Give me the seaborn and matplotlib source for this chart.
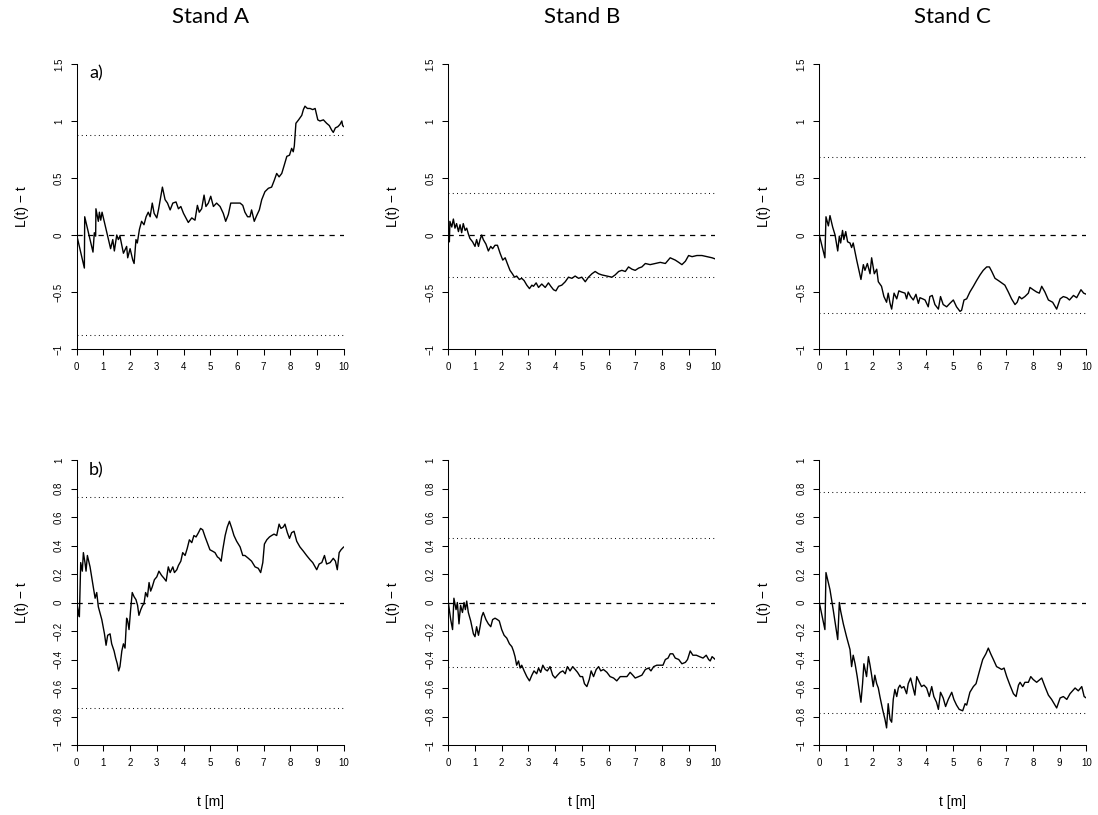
import numpy as np
import pandas as pd
import matplotlib
matplotlib.use("Agg")
import matplotlib.pyplot as plt
from matplotlib.ticker import FixedLocator, FuncFormatter
import seaborn as sns

# ---------------- data ----------------
stands = ["Stand A", "Stand B", "Stand C"]
row_labels = ["a)", "b)"]

x_ticks = [0, 1, 2, 3, 4, 5, 6, 7, 8, 9, 10]
y_ticks_top = [-1, -0.5, 0, 0.5, 1, 1.5]
y_ticks_bottom = [-1, -0.8, -0.6, -0.4, -0.2, 0, 0.2, 0.4, 0.6, 0.8, 1]

# envelope half-widths (dotted lines) per panel
env_top = [0.88, 0.37, 0.685]
env_bottom = [0.74, 0.45, 0.777]

# ---- row a) ----
tA_a = [0, 0.287, 0.30, 0.61, 0.66, 0.71, 0.72, 0.81, 0.85, 0.90,
        0.95, 1.27, 1.35, 1.41, 1.50, 1.56, 1.62, 1.75, 1.87, 1.91,
        2.0, 2.10, 2.15, 2.22, 2.27, 2.35, 2.43, 2.52, 2.60, 2.68,
        2.75, 2.83, 2.90, 3.0, 3.07, 3.21, 3.31, 3.40, 3.50, 3.60,
        3.72, 3.81, 3.90, 4.0, 4.18, 4.31, 4.43, 4.52, 4.59, 4.68,
        4.77, 4.84, 4.93, 5.02, 5.12, 5.24, 5.37, 5.49, 5.58, 5.68,
        5.77, 5.87, 5.99, 6.12, 6.22, 6.30, 6.40, 6.49, 6.55, 6.65,
        6.74, 6.84, 6.93, 7.05, 7.18, 7.30, 7.40, 7.49, 7.58, 7.68,
        7.77, 7.87, 7.97, 8.05, 8.11, 8.15, 8.21, 8.31, 8.43, 8.49,
        8.55, 8.64, 8.74, 8.84, 8.93, 9.03, 9.11, 9.24, 9.36, 9.46,
        9.55, 9.61, 9.69, 9.78, 9.86, 9.93, 9.96, 10.0]
LA_a = [0, -0.29, 0.16, -0.15, 0.02, -0.01, 0.23, 0.12, 0.20, 0.13,
        0.20, -0.12, -0.04, -0.14, 0.0, -0.04, -0.01, -0.16, -0.10, -0.20,
        -0.12, -0.22, -0.25, -0.04, -0.07, 0.05, 0.12, 0.09, 0.16, 0.20,
        0.16, 0.28, 0.19, 0.15, 0.23, 0.42, 0.31, 0.28, 0.22, 0.28,
        0.29, 0.23, 0.25, 0.19, 0.11, 0.15, 0.13, 0.26, 0.20, 0.23,
        0.35, 0.25, 0.28, 0.34, 0.25, 0.28, 0.25, 0.19, 0.12, 0.18,
        0.28, 0.28, 0.28, 0.28, 0.26, 0.20, 0.16, 0.16, 0.22, 0.12,
        0.17, 0.22, 0.31, 0.38, 0.41, 0.42, 0.48, 0.54, 0.51, 0.54,
        0.61, 0.69, 0.70, 0.76, 0.73, 0.78, 0.98, 1.01, 1.05, 1.10,
        1.13, 1.11, 1.11, 1.10, 1.11, 1.01, 1.00, 1.01, 0.98, 0.96,
        0.92, 0.90, 0.94, 0.95, 0.97, 1.00, 0.96, 0.95]

tB_a = [0, 0.04, 0.06, 0.13, 0.19, 0.25, 0.31, 0.38, 0.44, 0.50,
        0.56, 0.63, 0.69, 0.75, 0.81, 0.91, 1.0, 1.06, 1.13, 1.19,
        1.25, 1.31, 1.41, 1.5, 1.59, 1.66, 1.75, 1.84, 1.94, 2.04,
        2.13, 2.21, 2.31, 2.40, 2.48, 2.56, 2.66, 2.75, 2.84, 2.94,
        3.04, 3.13, 3.19, 3.29, 3.38, 3.5, 3.63, 3.75, 3.84, 3.94,
        4.03, 4.13, 4.25, 4.38, 4.5, 4.63, 4.75, 4.88, 5.0, 5.13,
        5.25, 5.38, 5.5, 5.63, 5.75, 5.94, 6.13, 6.25, 6.38, 6.5,
        6.63, 6.75, 6.88, 7.0, 7.13, 7.25, 7.38, 7.56, 7.75, 7.94,
        8.13, 8.31, 8.5, 8.63, 8.75, 8.88, 9.0, 9.13, 9.31, 9.5,
        9.69, 9.88, 10.0]
LB_a = [0, -0.06, 0.12, 0.07, 0.14, 0.06, 0.10, 0.03, 0.09, 0.02,
        0.10, 0.04, 0.06, 0.01, -0.03, -0.06, -0.10, -0.04, -0.10, -0.04,
        0.0, -0.04, -0.08, -0.14, -0.10, -0.12, -0.09, -0.09, -0.16, -0.22,
        -0.20, -0.25, -0.31, -0.34, -0.37, -0.36, -0.39, -0.38, -0.40, -0.44,
        -0.47, -0.44, -0.45, -0.42, -0.46, -0.43, -0.46, -0.42, -0.45, -0.48,
        -0.49, -0.45, -0.44, -0.41, -0.37, -0.38, -0.36, -0.38, -0.37, -0.41,
        -0.37, -0.34, -0.32, -0.34, -0.35, -0.36, -0.37, -0.35, -0.32, -0.31,
        -0.32, -0.28, -0.30, -0.31, -0.29, -0.28, -0.25, -0.26, -0.25, -0.24,
        -0.25, -0.20, -0.22, -0.24, -0.26, -0.23, -0.18, -0.19, -0.18, -0.18,
        -0.19, -0.20, -0.21]

tC_a = [0, 0.21, 0.25, 0.34, 0.40, 0.50, 0.59, 0.69, 0.75, 0.80,
        0.87, 0.92, 0.99, 1.06, 1.15, 1.21, 1.27, 1.40, 1.56, 1.65,
        1.71, 1.80, 1.90, 1.96, 2.06, 2.15, 2.21, 2.33, 2.42, 2.52,
        2.58, 2.65, 2.71, 2.80, 2.90, 2.98, 3.08, 3.21, 3.27, 3.33,
        3.42, 3.52, 3.62, 3.71, 3.77, 3.87, 3.96, 4.08, 4.14, 4.23,
        4.33, 4.46, 4.54, 4.64, 4.77, 4.89, 5.02, 5.14, 5.27, 5.33,
        5.42, 5.52, 5.64, 5.77, 5.89, 6.02, 6.14, 6.27, 6.37, 6.46,
        6.58, 6.71, 6.83, 6.95, 7.08, 7.20, 7.33, 7.41, 7.49, 7.58,
        7.70, 7.83, 7.89, 8.01, 8.14, 8.24, 8.33, 8.45, 8.58, 8.74,
        8.89, 9.02, 9.14, 9.27, 9.37, 9.52, 9.64, 9.80, 9.90, 10.0]
LC_a = [0, -0.20, 0.16, 0.08, 0.17, 0.07, 0.0, -0.14, -0.01, -0.07,
        0.04, -0.04, 0.03, -0.06, -0.07, -0.11, -0.07, -0.22, -0.39, -0.26,
        -0.31, -0.25, -0.34, -0.20, -0.34, -0.30, -0.41, -0.45, -0.54, -0.59,
        -0.51, -0.60, -0.65, -0.51, -0.56, -0.49, -0.50, -0.51, -0.56, -0.50,
        -0.54, -0.57, -0.52, -0.60, -0.55, -0.56, -0.57, -0.63, -0.54, -0.53,
        -0.61, -0.65, -0.54, -0.61, -0.63, -0.60, -0.57, -0.63, -0.67, -0.66,
        -0.57, -0.56, -0.50, -0.45, -0.40, -0.35, -0.31, -0.28, -0.28, -0.32,
        -0.38, -0.40, -0.42, -0.44, -0.50, -0.56, -0.61, -0.59, -0.54, -0.56,
        -0.54, -0.51, -0.46, -0.48, -0.50, -0.51, -0.45, -0.50, -0.57, -0.59,
        -0.65, -0.56, -0.54, -0.55, -0.57, -0.53, -0.55, -0.48, -0.51, -0.52]

# ---- row b) ----
tA_b = [0, 0.06, 0.10, 0.15, 0.21, 0.25, 0.31, 0.35, 0.40, 0.50,
        0.62, 0.69, 0.75, 0.81, 0.94, 1.04, 1.10, 1.16, 1.25, 1.31,
        1.40, 1.46, 1.52, 1.57, 1.62, 1.69, 1.75, 1.81, 1.87, 1.91,
        1.96, 2.02, 2.08, 2.15, 2.22, 2.28, 2.33, 2.40, 2.47, 2.52,
        2.58, 2.65, 2.71, 2.77, 2.83, 2.91, 3.0, 3.08, 3.18, 3.27,
        3.35, 3.43, 3.50, 3.60, 3.66, 3.75, 3.81, 3.90, 3.97, 4.06,
        4.14, 4.22, 4.31, 4.39, 4.47, 4.56, 4.64, 4.72, 4.81, 4.89,
        4.99, 5.09, 5.18, 5.27, 5.34, 5.41, 5.47, 5.56, 5.64, 5.72,
        5.81, 5.89, 5.99, 6.12, 6.22, 6.30, 6.43, 6.55, 6.68, 6.80,
        6.89, 6.97, 7.03, 7.12, 7.22, 7.30, 7.39, 7.49, 7.58, 7.65,
        7.74, 7.80, 7.89, 7.97, 8.05, 8.14, 8.24, 8.36, 8.49, 8.61,
        8.74, 8.84, 8.93, 8.99, 9.08, 9.18, 9.28, 9.36, 9.49, 9.61,
        9.69, 9.76, 9.83, 9.90, 10.0]
LA_b = [0, -0.06, -0.10, 0.28, 0.22, 0.35, 0.28, 0.22, 0.33, 0.25,
        0.11, 0.03, 0.07, -0.03, -0.12, -0.22, -0.30, -0.23, -0.22, -0.29,
        -0.34, -0.39, -0.43, -0.48, -0.45, -0.34, -0.29, -0.32, -0.11, -0.13,
        -0.19, -0.05, 0.07, 0.04, 0.02, -0.02, -0.09, -0.05, -0.02, -0.01,
        0.07, 0.04, 0.14, 0.08, 0.11, 0.16, 0.18, 0.22, 0.19, 0.17,
        0.15, 0.25, 0.21, 0.25, 0.21, 0.23, 0.26, 0.29, 0.35, 0.33,
        0.38, 0.44, 0.42, 0.47, 0.46, 0.49, 0.52, 0.51, 0.46, 0.42,
        0.37, 0.36, 0.35, 0.32, 0.31, 0.29, 0.37, 0.47, 0.53, 0.57,
        0.52, 0.47, 0.43, 0.39, 0.33, 0.33, 0.31, 0.29, 0.25, 0.24,
        0.21, 0.28, 0.41, 0.44, 0.46, 0.47, 0.48, 0.47, 0.55, 0.52,
        0.53, 0.55, 0.49, 0.45, 0.49, 0.50, 0.43, 0.39, 0.36, 0.33,
        0.30, 0.28, 0.25, 0.23, 0.27, 0.28, 0.33, 0.27, 0.28, 0.31,
        0.29, 0.23, 0.35, 0.37, 0.39]

tB_b = [0, 0.09, 0.16, 0.21, 0.29, 0.34, 0.40, 0.46, 0.53, 0.59,
        0.64, 0.69, 0.75, 0.84, 0.94, 1.0, 1.06, 1.13, 1.19, 1.25,
        1.31, 1.41, 1.5, 1.59, 1.66, 1.75, 1.84, 1.91, 2.0, 2.09,
        2.19, 2.29, 2.38, 2.44, 2.5, 2.56, 2.63, 2.69, 2.75, 2.84,
        2.94, 3.04, 3.13, 3.21, 3.31, 3.38, 3.46, 3.54, 3.63, 3.71,
        3.81, 3.91, 4.0, 4.09, 4.19, 4.29, 4.38, 4.46, 4.56, 4.66,
        4.75, 4.84, 4.94, 5.03, 5.10, 5.19, 5.28, 5.35, 5.44, 5.54,
        5.63, 5.71, 5.81, 5.94, 6.06, 6.19, 6.31, 6.44, 6.56, 6.69,
        6.81, 6.91, 7.0, 7.13, 7.25, 7.38, 7.5, 7.59, 7.69, 7.81,
        7.94, 8.04, 8.13, 8.23, 8.31, 8.41, 8.5, 8.63, 8.75, 8.88,
        8.96, 9.06, 9.16, 9.29, 9.41, 9.54, 9.66, 9.75, 9.81, 9.88,
        10.0]
LB_b = [0, -0.12, -0.19, 0.03, -0.05, 0.0, -0.15, -0.02, -0.07, 0.0,
        -0.05, 0.01, -0.07, -0.13, -0.22, -0.24, -0.17, -0.23, -0.17, -0.10,
        -0.07, -0.12, -0.15, -0.17, -0.12, -0.11, -0.12, -0.13, -0.19, -0.23,
        -0.25, -0.29, -0.31, -0.34, -0.38, -0.44, -0.41, -0.46, -0.44, -0.48,
        -0.52, -0.55, -0.51, -0.48, -0.50, -0.46, -0.49, -0.44, -0.47, -0.48,
        -0.45, -0.51, -0.53, -0.51, -0.49, -0.48, -0.50, -0.45, -0.48, -0.45,
        -0.47, -0.49, -0.52, -0.52, -0.57, -0.59, -0.54, -0.48, -0.52, -0.47,
        -0.45, -0.48, -0.47, -0.49, -0.52, -0.53, -0.55, -0.52, -0.52, -0.52,
        -0.49, -0.51, -0.53, -0.52, -0.51, -0.47, -0.46, -0.48, -0.45, -0.44,
        -0.44, -0.44, -0.40, -0.39, -0.36, -0.36, -0.39, -0.40, -0.43, -0.42,
        -0.40, -0.34, -0.37, -0.37, -0.38, -0.39, -0.37, -0.40, -0.41, -0.38,
        -0.40]

tC_b = [0, 0.21, 0.25, 0.40, 0.52, 0.69, 0.75, 0.80, 0.90, 1.02,
        1.15, 1.21, 1.27, 1.34, 1.42, 1.56, 1.62, 1.67, 1.77, 1.84,
        1.90, 1.96, 2.02, 2.08, 2.15, 2.21, 2.27, 2.37, 2.46, 2.52,
        2.58, 2.65, 2.71, 2.77, 2.83, 2.90, 2.96, 3.02, 3.08, 3.17,
        3.27, 3.33, 3.42, 3.50, 3.58, 3.65, 3.75, 3.83, 3.92, 4.02,
        4.12, 4.21, 4.29, 4.39, 4.46, 4.54, 4.64, 4.73, 4.83, 4.96,
        5.04, 5.14, 5.24, 5.37, 5.46, 5.52, 5.64, 5.77, 5.87, 6.0,
        6.12, 6.24, 6.33, 6.42, 6.52, 6.64, 6.74, 6.83, 6.92, 7.02,
        7.14, 7.27, 7.37, 7.46, 7.52, 7.62, 7.70, 7.83, 7.92, 8.01,
        8.14, 8.33, 8.45, 8.58, 8.70, 8.89, 9.02, 9.14, 9.27, 9.39,
        9.58, 9.70, 9.83, 9.92, 10.0]
LC_b = [0, -0.19, 0.21, 0.09, -0.05, -0.26, 0.0, -0.06, -0.15, -0.24,
        -0.33, -0.45, -0.37, -0.43, -0.52, -0.70, -0.57, -0.43, -0.52, -0.38,
        -0.44, -0.51, -0.59, -0.51, -0.57, -0.60, -0.66, -0.75, -0.82, -0.88,
        -0.71, -0.82, -0.84, -0.68, -0.61, -0.66, -0.60, -0.58, -0.60, -0.59,
        -0.64, -0.57, -0.53, -0.59, -0.65, -0.52, -0.56, -0.59, -0.58, -0.60,
        -0.66, -0.59, -0.66, -0.70, -0.75, -0.63, -0.67, -0.73, -0.68, -0.63,
        -0.68, -0.72, -0.75, -0.76, -0.71, -0.72, -0.63, -0.59, -0.57, -0.48,
        -0.40, -0.36, -0.32, -0.36, -0.40, -0.45, -0.46, -0.47, -0.46, -0.52,
        -0.58, -0.64, -0.66, -0.58, -0.56, -0.59, -0.56, -0.56, -0.52, -0.54,
        -0.56, -0.53, -0.59, -0.65, -0.68, -0.74, -0.67, -0.66, -0.68, -0.64,
        -0.60, -0.62, -0.59, -0.66, -0.67]

top_series = [(tA_a, LA_a), (tB_a, LB_a), (tC_a, LC_a)]
bottom_series = [(tA_b, LA_b), (tB_b, LB_b), (tC_b, LC_b)]

# ---------------- style ----------------
sns.set_theme(style="ticks")
plt.rcParams["font.family"] = ["Liberation Sans", "DejaVu Sans"]
plt.rcParams["axes.unicode_minus"] = True

W, H = 1098, 815
fig = plt.figure(figsize=(W / 100, H / 100), dpi=100)
fig.patch.set_facecolor("white")

col_left_px = [76.7, 448.3, 819.3]
ax_w_px = 267.0
row_top_px = [64.0, 460.0]
ax_h_px = 285.0


def fmt(v, pos):
    s = "%g" % round(v, 2)
    if s == "-0":
        s = "0"
    return s.replace("-", "\u2212")


for r in range(2):
    series = top_series if r == 0 else bottom_series
    envs = env_top if r == 0 else env_bottom
    yt = y_ticks_top if r == 0 else y_ticks_bottom
    for c in range(3):
        left = col_left_px[c] / W
        bottom = 1 - (row_top_px[r] + ax_h_px) / H
        ax = fig.add_axes([left, bottom, ax_w_px / W, ax_h_px / H])
        ax.set_facecolor("white")
        t, L = series[c]
        df = pd.DataFrame({"t": t, "L": L})
        sns.lineplot(data=df, x="t", y="L", ax=ax, color="black", lw=1.0,
                     estimator=None, sort=False)
        ax.axhline(0, color="black", lw=0.9, dashes=(4.2, 4.2), xmin=0, xmax=1)
        ax.axhline(envs[c], color="black", lw=0.75, dashes=(0.9, 3.2))
        ax.axhline(-envs[c], color="black", lw=0.75, dashes=(0.9, 3.2))
        ax.set_xlim(x_ticks[0], x_ticks[-1])
        ax.set_ylim(yt[0], yt[-1])
        ax.xaxis.set_major_locator(FixedLocator(x_ticks))
        ax.yaxis.set_major_locator(FixedLocator(yt))
        ax.xaxis.set_major_formatter(FuncFormatter(fmt))
        ax.yaxis.set_major_formatter(FuncFormatter(fmt))
        ax.tick_params(axis="both", direction="out", length=4.4, width=0.75,
                       color="black", labelsize=7, pad=4.8, labelcolor="black")
        ax.tick_params(axis="y", labelrotation=90)
        for lab in ax.get_yticklabels():
            lab.set_verticalalignment("center")
        sns.despine(ax=ax)
        for sp in ("left", "bottom"):
            ax.spines[sp].set_linewidth(0.75)
            ax.spines[sp].set_color("black")
        ax.grid(False)
        ax.set_ylabel("L(t) \u2212 t", fontsize=10, color="black")
        ax.yaxis.set_label_coords(-55 / ax_w_px, 0.5)
        ax.yaxis.label.set_verticalalignment("center")
        if r == 1:
            ax.set_xlabel("t [m]", fontsize=10, color="black")
            ax.xaxis.set_label_coords(0.5, -57 / ax_h_px)
            ax.xaxis.label.set_verticalalignment("center")
        else:
            ax.set_xlabel("")
        if c == 0:
            ypos = 1.42 if r == 0 else 0.93
            ax.text(0.47, ypos, row_labels[r], fontsize=13, family="Lato",
                    ha="left", va="center", color="black")
        if r == 0:
            fig.text((col_left_px[c] + ax_w_px / 2) / W, 1 - 17 / H, stands[c],
                     fontsize=16, family="Lato", ha="center", va="center",
                     color="black")

fig.savefig("out.png", dpi=100, facecolor="white")
